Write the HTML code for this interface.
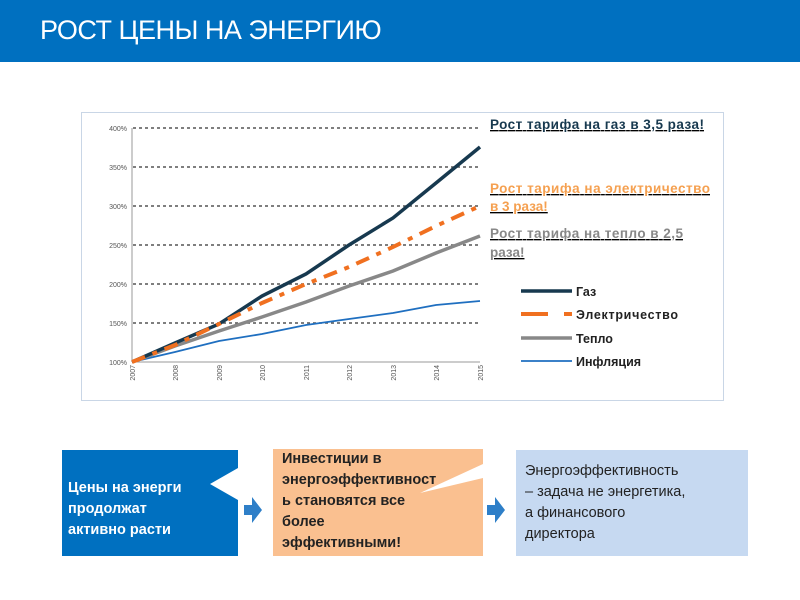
<!DOCTYPE html>
<html><head><meta charset="utf-8"><style>
body{margin:0;width:800px;height:600px;background:#fff;position:relative;overflow:hidden;font-family:"Liberation Sans","Noto Sans CJK SC",sans-serif}
.hdr{position:absolute;left:0;top:0;width:800px;height:62px;background:#0070C0}
.hdr span{position:absolute;left:40px;top:15px;color:#fff;font-size:27px;letter-spacing:-0.5px}
.box{position:absolute;font-size:14.5px;line-height:21px;font-weight:bold}
</style></head><body>
<div class="hdr"><span>РОСТ ЦЕНЫ НА ЭНЕРГИЮ</span></div>
<svg width="800" height="600" style="position:absolute;left:0;top:0" font-family="Liberation Sans, sans-serif">
<rect x="81.5" y="112.5" width="642" height="288" fill="#fff" stroke="#c9d6e6"/>
<g stroke="#555" stroke-width="1.5" stroke-dasharray="3,3">
<line x1="133" y1="128" x2="480" y2="128"/><line x1="133" y1="167" x2="480" y2="167"/>
<line x1="133" y1="206" x2="480" y2="206"/><line x1="133" y1="245" x2="480" y2="245"/>
<line x1="133" y1="284" x2="480" y2="284"/><line x1="133" y1="323" x2="480" y2="323"/>
</g>
<line x1="132" y1="128" x2="132" y2="362" stroke="#999"/>
<line x1="132" y1="362" x2="480" y2="362" stroke="#999"/>
<g font-size="7" fill="#555" text-anchor="end">
<text x="127" y="131">400%</text><text x="127" y="170">350%</text><text x="127" y="209">300%</text>
<text x="127" y="248">250%</text><text x="127" y="287">200%</text><text x="127" y="326">150%</text><text x="127" y="365">100%</text>
</g>
<g font-size="7" fill="#555" text-anchor="end">
<text transform="translate(135,365) rotate(-90)">2007</text><text transform="translate(178,365) rotate(-90)">2008</text>
<text transform="translate(222,365) rotate(-90)">2009</text><text transform="translate(265,365) rotate(-90)">2010</text>
<text transform="translate(309,365) rotate(-90)">2011</text><text transform="translate(352,365) rotate(-90)">2012</text>
<text transform="translate(396,365) rotate(-90)">2013</text><text transform="translate(439,365) rotate(-90)">2014</text>
<text transform="translate(483,365) rotate(-90)">2015</text>
</g>
<polyline fill="none" stroke="#1f6fc0" stroke-width="1.8" points="132,362 175,352 219,341 262,334 306,325 349,319 393,313 436,305 480,301"/>
<polyline fill="none" stroke="#888" stroke-width="3.5" points="132,362 175,346 219,331 262,317 306,302 349,286 393,271 436,253 480,236"/>
<polyline fill="none" stroke="#17394f" stroke-width="3.5" points="132,362 175,343 219,324 262,296 306,274 349,245 393,218 436,183 480,147"/>
<polyline fill="none" stroke="#f07020" stroke-width="4" stroke-dasharray="14,8,5,8" points="132,362 175,345 219,324 262,303 306,284 349,267 393,247 436,226 480,206"/>
<g font-size="13.5" font-weight="bold" text-decoration="underline">
<text x="490" y="129" fill="#17394f" textLength="214">Рост тарифа на газ в 3,5 раза!</text>
<text x="490" y="193" fill="#f5a050" textLength="220">Рост тарифа на электричество</text>
<text x="490" y="211" fill="#f5a050">в 3 раза!</text>
<text x="490" y="238" fill="#888" textLength="193">Рост тарифа на тепло в 2,5</text>
<text x="490" y="257" fill="#888">раза!</text>
</g>
<line x1="521" y1="291" x2="572" y2="291" stroke="#17394f" stroke-width="3.5"/>
<line x1="521" y1="314" x2="548" y2="314" stroke="#f07020" stroke-width="4"/><line x1="564" y1="314" x2="572" y2="314" stroke="#f07020" stroke-width="4"/>
<line x1="521" y1="338" x2="572" y2="338" stroke="#888" stroke-width="3.5"/>
<line x1="521" y1="361" x2="572" y2="361" stroke="#1f6fc0" stroke-width="1.8"/>
<g font-size="12.5" font-weight="bold" fill="#222">
<text x="576" y="296">Газ</text><text x="576" y="319" textLength="102">Электричество</text><text x="576" y="343">Тепло</text><text x="576" y="366">Инфляция</text>
</g>
<rect x="62" y="450" width="176" height="106" fill="#0070C0"/>
<rect x="273" y="449" width="210" height="107" fill="#FAC090"/>
<rect x="516" y="450" width="232" height="106" fill="#C6D9F1"/>
<polygon points="210,484 238,468 238,500" fill="#fff"/>
<polygon points="420,493 483,464 483,478" fill="#fff"/>
<polygon points="244,505 252,505 252,497 262,510 252,523 252,515 244,515" fill="#2e7fc8"/>
<polygon points="487,505 495,505 495,497 505,510 495,523 495,515 487,515" fill="#2e7fc8"/>
</svg>
<div class="box" style="left:68px;top:478px;color:#fff">Цены на энерги<br>продолжат<br>активно расти</div>
<div class="box" style="left:282px;top:449px;color:#222">Инвестиции в<br>энергоэффективност<br>ь становятся все<br>более<br>эффективными!</div>
<div class="box" style="left:525px;top:461px;color:#222;font-weight:normal">Энергоэффективность<br>– задача не энергетика,<br>а финансового<br>директора</div>
</body></html>
